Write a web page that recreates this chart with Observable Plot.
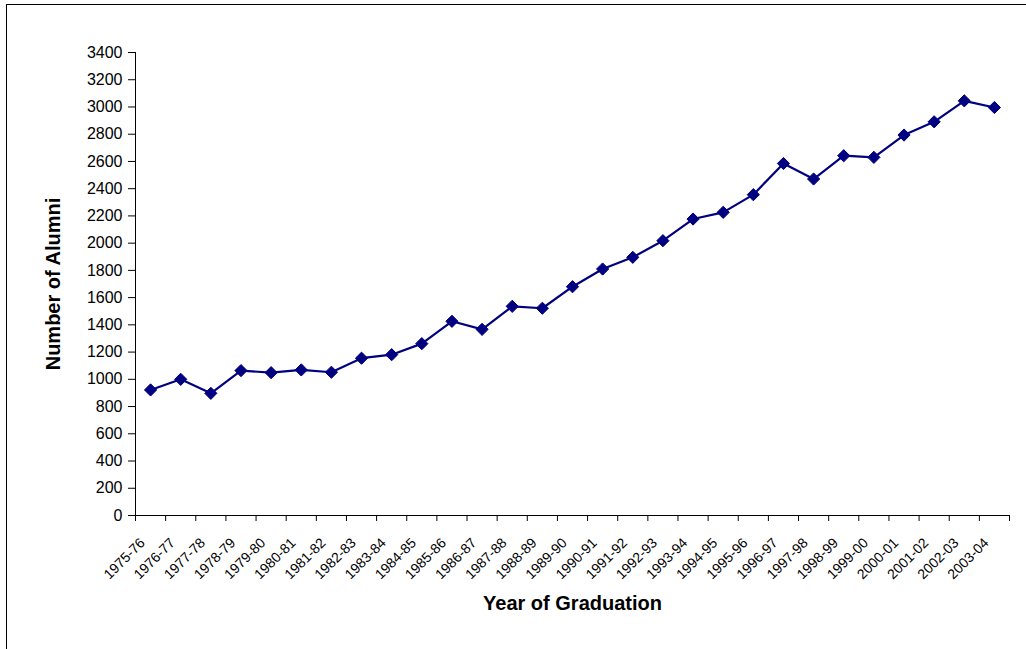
<!DOCTYPE html>
<html>
<head>
<meta charset="utf-8">
<script src="https://cdn.jsdelivr.net/npm/d3@7"></script>
<script src="https://cdn.jsdelivr.net/npm/@observablehq/plot@0.6"></script>
<style>
  html, body { margin: 0; padding: 0; background: #fff; overflow: hidden; }
  #wrap { position: relative; width: 1026px; height: 649px; }
  #border { position: absolute; left: 5.5px; top: 4.25px; width: 1100px; height: 700px;
            border-left: 1.5px solid #000; border-top: 1.5px solid #000; pointer-events: none; }
  #chart { position: absolute; left: 0; top: 0; }
</style>
</head>
<body>
<div id="wrap"><div id="chart"></div><div id="border"></div></div>
<script>
const categories = ["1975-76","1976-77","1977-78","1978-79","1979-80","1980-81","1981-82","1982-83","1983-84","1984-85","1985-86","1986-87","1987-88","1988-89","1989-90","1990-91","1991-92","1992-93","1993-94","1994-95","1995-96","1996-97","1997-98","1998-99","1999-00","2000-01","2001-02","2002-03","2003-04"];
const alumni = [922, 1000, 897, 1064, 1049, 1069, 1052, 1155, 1181, 1262, 1426, 1367, 1536, 1522, 1680, 1810, 1896, 2018, 2177, 2226, 2356, 2585, 2471, 2642, 2630, 2794, 2891, 3045, 2996];
const yTicks = [0, 200, 400, 600, 800, 1000, 1200, 1400, 1600, 1800, 2000, 2200, 2400, 2600, 2800, 3000, 3200, 3400];
const xTitle = "Year of Graduation";
const yTitle = "Number of Alumni";

const data = categories.map((c, i) => ({pos: i + 0.5, cat: c, value: alumni[i]}));
const boundaries = d3.range(0, categories.length + 1);
const color = "#000080";

const chart = Plot.plot({
  width: 1026,
  height: 649,
  marginLeft: 135,
  marginRight: 17,
  marginTop: 52,
  marginBottom: 134,
  style: {fontFamily: "'Liberation Sans', Arial, sans-serif", color: "#000", background: "transparent"},
  x: {type: "linear", domain: [0, categories.length]},
  y: {domain: [0, 3400]},
  marks: [
    Plot.ruleX([0], {stroke: "#000", strokeWidth: 1}),
    Plot.ruleY([0], {stroke: "#000", strokeWidth: 1}),
    Plot.axisY({ticks: yTicks, tickSize: 7, tickPadding: 6, tickFormat: d => String(d), fontSize: 16, label: null}),
    Plot.axisX({ticks: boundaries, tickSize: 6, tickFormat: () => "", label: null}),
    Plot.axisX({ticks: data.map(d => d.pos), tickFormat: p => categories[Math.floor(p)], tickSize: 0, tickPadding: 25, dx: -8,
                tickRotate: -45, textAnchor: "end", lineAnchor: "middle", fontSize: 14, label: null}),
    Plot.line(data, {x: "pos", y: "value", stroke: color, strokeWidth: 2.2}),
    Plot.dot(data, {x: "pos", y: "value", symbol: "diamond2", r: 5.5, fill: color, stroke: color, strokeWidth: 1}),
    Plot.text([xTitle], {frameAnchor: "bottom", dy: 88, text: d => d, fontSize: 20, fontWeight: "bold", lineAnchor: "middle"}),
    Plot.text([yTitle], {frameAnchor: "left", dx: -82, rotate: -90, text: d => d, fontSize: 20, fontWeight: "bold", textAnchor: "middle", lineAnchor: "middle"})
  ]
});
document.getElementById("chart").appendChild(chart);
</script>
</body>
</html>
